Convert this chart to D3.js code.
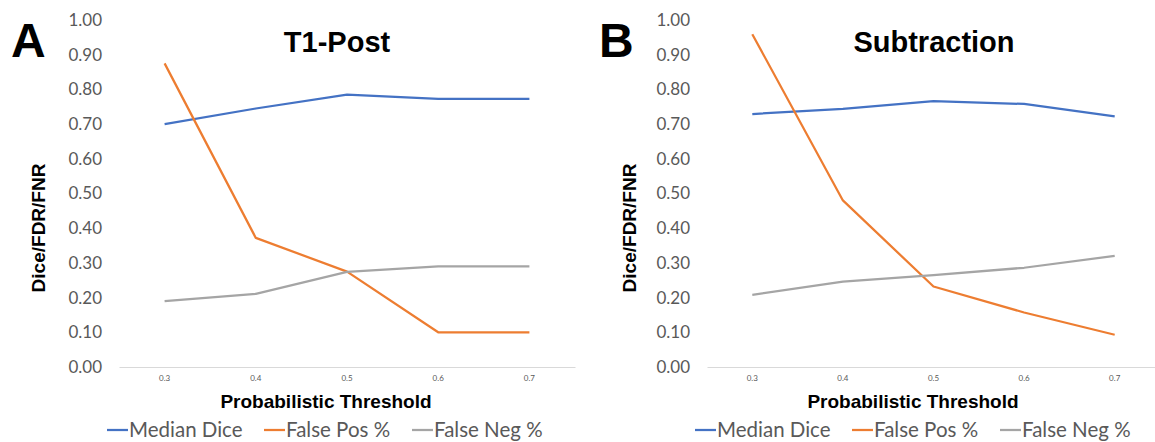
<!DOCTYPE html>
<html>
<head>
<meta charset="utf-8">
<script src="https://cdn.jsdelivr.net/npm/d3@7"></script>
<style>
  body { margin: 0; background: #ffffff; }
  svg { display: block; }
</style>
</head>
<body>
<div id="chart"></div>
<script>
// Thresholds on the x axis
const thresholds = ['0.3', '0.4', '0.5', '0.6', '0.7'];
const yTicks = [0, 0.1, 0.2, 0.3, 0.4, 0.5, 0.6, 0.7, 0.8, 0.9, 1.0];
const seriesNames = ['Median Dice', 'False Pos %', 'False Neg %'];
const seriesColors = ['#4472C4', '#ED7D31', '#A5A5A5'];

// Panel A: T1-Post
const t1Dice = [0.70, 0.745, 0.785, 0.773, 0.773];
const t1FalsePos = [0.875, 0.372, 0.275, 0.10, 0.10];
const t1FalseNeg = [0.19, 0.211, 0.274, 0.29, 0.29];

// Panel B: Subtraction
const subDice = [0.729, 0.744, 0.766, 0.758, 0.722];
const subFalsePos = [0.959, 0.48, 0.232, 0.157, 0.093];
const subFalseNeg = [0.208, 0.246, 0.265, 0.286, 0.32];

const width = 1155;
const height = 442;

const svg = d3.select('#chart')
  .append('svg')
  .attr('width', width)
  .attr('height', height);

const sansFont = 'Lato, "Liberation Sans", sans-serif';
const boldFont = '"Liberation Sans", Arial, sans-serif';

drawPanel({
  letter: 'A', letterX: 11,
  title: 'T1-Post', titleX: 337,
  xRange: [119, 575], tickLabelX: 102, yLabelX: 38, xTitleX: 326, legendX: 107,
  series: [t1Dice, t1FalsePos, t1FalseNeg]
});

drawPanel({
  letter: 'B', letterX: 599,
  title: 'Subtraction', titleX: 934,
  xRange: [707, 1160], tickLabelX: 690, yLabelX: 629, xTitleX: 913, legendX: 695,
  series: [subDice, subFalsePos, subFalseNeg]
});

function drawPanel(p) {
  const g = svg.append('g');

  const x = d3.scaleBand()
    .domain(thresholds)
    .range(p.xRange);

  const y = d3.scaleLinear()
    .domain([0, 1])
    .range([367, 20]);

  // Panel letter
  g.append('text')
    .attr('x', p.letterX)
    .attr('y', 57)
    .attr('fill', '#000')
    .style('font-family', boldFont)
    .style('font-weight', 'bold')
    .style('font-size', '48px')
    .text(p.letter);

  // Title
  g.append('text')
    .attr('x', p.titleX)
    .attr('y', 52)
    .attr('text-anchor', 'middle')
    .attr('fill', '#000')
    .style('font-family', boldFont)
    .style('font-weight', 'bold')
    .style('font-size', '29px')
    .text(p.title);

  // Y tick labels (no axis line, no gridlines)
  const yAxis = d3.axisLeft(y)
    .tickValues(yTicks)
    .tickFormat(d3.format('.2f'))
    .tickSize(0)
    .tickPadding(0);

  const yg = g.append('g')
    .attr('transform', `translate(${p.tickLabelX},0)`)
    .call(yAxis);
  yg.select('.domain').remove();
  yg.selectAll('text')
    .attr('fill', '#595959')
    .style('font-family', sansFont)
    .style('font-size', '17px');

  // X axis: light baseline with tiny labels
  const xAxis = d3.axisBottom(x)
    .tickSize(0)
    .tickPadding(8);

  const xg = g.append('g')
    .attr('transform', 'translate(0,367)')
    .call(xAxis);
  xg.select('.domain')
    .attr('stroke', '#d9d9d9')
    .attr('stroke-width', 1);
  xg.selectAll('text')
    .attr('fill', '#595959')
    .style('font-family', sansFont)
    .style('font-size', '8px');

  // Axis titles
  g.append('text')
    .attr('transform', `translate(${p.yLabelX},228) rotate(-90)`)
    .attr('text-anchor', 'middle')
    .attr('dy', '0.35em')
    .attr('fill', '#000')
    .style('font-family', boldFont)
    .style('font-weight', 'bold')
    .style('font-size', '19px')
    .text('Dice/FDR/FNR');

  g.append('text')
    .attr('x', p.xTitleX)
    .attr('y', 408)
    .attr('text-anchor', 'middle')
    .attr('fill', '#000')
    .style('font-family', boldFont)
    .style('font-weight', 'bold')
    .style('font-size', '19px')
    .text('Probabilistic Threshold');

  // Lines
  const line = d3.line()
    .x((d, i) => x(thresholds[i]) + x.bandwidth() / 2)
    .y(d => y(d));

  p.series.forEach((values, i) => {
    g.append('path')
      .datum(values)
      .attr('fill', 'none')
      .attr('stroke', seriesColors[i])
      .attr('stroke-width', 2.25)
      .attr('stroke-linejoin', 'round')
      .attr('d', line);
  });

  // Legend
  const legendOffsets = [0, 157, 305];
  seriesNames.forEach((name, i) => {
    const lg = g.append('g')
      .attr('transform', `translate(${p.legendX + legendOffsets[i]},430)`);
    lg.append('line')
      .attr('x1', 0)
      .attr('x2', 21)
      .attr('y1', 0)
      .attr('y2', 0)
      .attr('stroke', seriesColors[i])
      .attr('stroke-width', 2.25);
    lg.append('text')
      .attr('x', 22)
      .attr('y', 7)
      .attr('fill', '#595959')
      .style('font-family', sansFont)
      .style('font-size', '20.5px')
      .text(name);
  });
}
</script>
</body>
</html>
